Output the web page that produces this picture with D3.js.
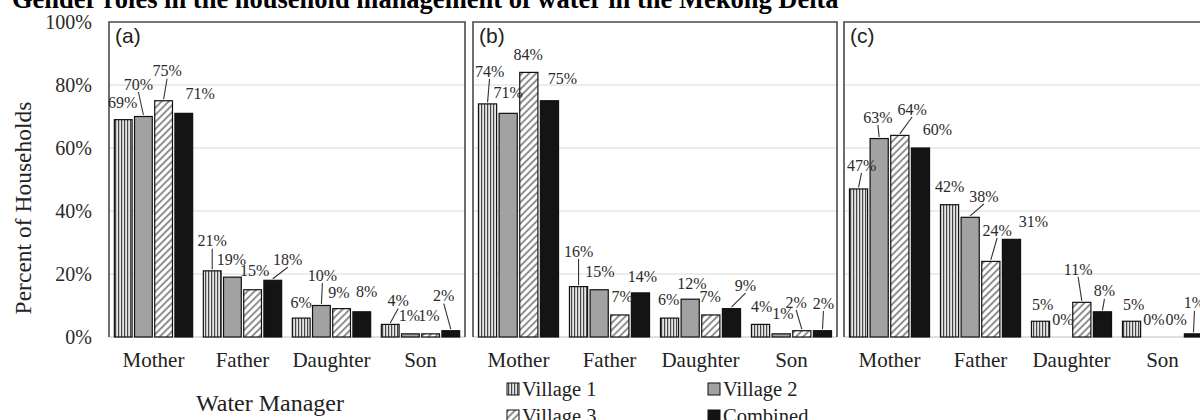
<!DOCTYPE html>
<html><head><meta charset="utf-8">
<script src="https://cdn.jsdelivr.net/npm/d3@7"></script>
<style>
html,body{margin:0;padding:0;background:#fff;}
svg{display:block;}
</style></head><body>
<svg id="chart" width="1200" height="420"></svg>
<script>
const categories = ["Mother", "Father", "Daughter", "Son"];
const seriesNames = ["Village 1", "Village 2", "Village 3", "Combined"];
const panelLabels = ["(a)", "(b)", "(c)"];
const yTickValues = [0, 20, 40, 60, 80, 100];

// Percent of households, one row per panel (a, b, c), columns in category order
const village1 = [[69, 21, 6, 4], [74, 16, 6, 4], [47, 42, 5, 5]];
const village2 = [[70, 19, 10, 1], [71, 15, 12, 1], [63, 38, 0, 0]];
const village3 = [[75, 15, 9, 1], [84, 7, 7, 2], [64, 24, 11, 0]];
const combined = [[71, 18, 8, 2], [75, 14, 9, 2], [60, 31, 8, 1]];
const seriesValues = [village1, village2, village3, combined];

// Data label placement relative to the bar's top centre: [dx, dy, leader line]
const labelOffsets = [
  [
    [[-0.5, -17.5, 0], [-5, -32.5, 1], [3.5, -30, 1], [16.5, -20, 0]],
    [[0, -30, 1], [-1, -18, 0], [2, -19, 0], [15, -21, 1]],
    [[0, -16, 0], [1, -30.5, 1], [-2.6, -16.6, 0], [5, -20, 0]],
    [[8, -24, 1], [-1, -18, 0], [-1.6, -18, 0], [-7, -35, 1]]
  ],
  [
    [[2, -33, 1], [0, -21, 0], [-0.7, -18.4, 0], [13, -22, 0]],
    [[0, -35.6, 1], [0.7, -18.7, 0], [2.3, -19, 0], [2, -17, 0]],
    [[-1, -19, 0], [1.7, -16, 0], [-0.7, -19, 0], [14, -23.6, 1]],
    [[1, -18, 0], [1.7, -20, 0], [-5.7, -28.7, 1], [1, -27.7, 1]]
  ],
  [
    [[3, -24, 1], [-1.3, -21.5, 1], [12.3, -26.4, 1], [17, -19, 0]],
    [[0, -18.7, 0], [13.7, -21.3, 1], [6.3, -31.4, 1], [22, -18, 0]],
    [[2, -17, 0], [1.7, -18, 0], [-3.7, -33.4, 1], [2, -21, 1]],
    [[2, -17, 0], [1.7, -18, 0], [3.3, -18, 0], [1, -31, 1]]
  ]
];

const panelExtents = [[109, 465], [473, 837], [844, 1208]];
const plotTop = 22, plotBottom = 337;

const svg = d3.select("#chart");
const serif = "'Liberation Serif','Times New Roman',serif";
const sans = "'Liberation Sans',Arial,sans-serif";

// Fill patterns for the four series
const defs = svg.append("defs");
const pv = defs.append("pattern").attr("id", "fill-v1")
  .attr("patternUnits", "userSpaceOnUse").attr("width", 3).attr("height", 6);
pv.append("rect").attr("width", 3).attr("height", 6).attr("fill", "#e6e6e6");
pv.append("rect").attr("x", 1).attr("width", 1.2).attr("height", 6).attr("fill", "#474747");

const ph = defs.append("pattern").attr("id", "fill-v3")
  .attr("patternUnits", "userSpaceOnUse").attr("width", 5).attr("height", 5)
  .attr("patternTransform", "rotate(45)");
ph.append("rect").attr("width", 5).attr("height", 5).attr("fill", "#fff");
ph.append("line").attr("x1", 1).attr("y1", 0).attr("x2", 1).attr("y2", 5)
  .attr("stroke", "#555").attr("stroke-width", 1.3);

const fills = ["url(#fill-v1)", "#a2a2a2", "url(#fill-v3)", "#141414"];

const y = d3.scaleLinear().domain([0, 100]).range([plotBottom, plotTop]);

// Title
svg.append("text").attr("x", 12).attr("y", 8)
  .attr("font-family", serif).attr("font-weight", "bold").attr("font-size", 26.5)
  .attr("fill", "#000")
  .text("Gender roles in the household management of water in the Mekong Delta");

// Y axis ticks
const yAxis = svg.append("g").attr("transform", `translate(${panelExtents[0][0]},0)`)
  .call(d3.axisLeft(y).tickValues(yTickValues).tickFormat(d => d + "%").tickSize(0).tickPadding(17));
yAxis.select(".domain").remove();
yAxis.selectAll("text").attr("font-family", serif).attr("font-size", 20).attr("fill", "#2a2a2a");

svg.append("text")
  .attr("transform", "translate(31,208) rotate(-90)")
  .attr("text-anchor", "middle").attr("font-family", serif).attr("font-size", 23.5)
  .attr("fill", "#222").text("Percent of Households");

panelExtents.forEach((ext, p) => {
  const g = svg.append("g");
  const x0 = d3.scaleBand().domain(categories).range(ext);
  const bw = x0.bandwidth();
  const x1 = d3.scaleBand().domain(seriesNames).range([bw * 0.06, bw * 0.94]).paddingInner(0.12);

  // gridlines
  g.selectAll("line.grid").data(yTickValues.filter(v => v < 100)).join("line")
    .attr("x1", ext[0]).attr("x2", ext[1])
    .attr("y1", d => y(d)).attr("y2", d => y(d))
    .attr("stroke", d => d === 0 ? "#d6d6d6" : "#e6e6e6").attr("stroke-width", 1.5);

  // frame: top, left and right edges
  g.append("path")
    .attr("d", `M${ext[0]},${y(0)}V${y(100)}H${ext[1]}V${y(0)}`)
    .attr("fill", "none").attr("stroke", "#4a4a4a").attr("stroke-width", 1.6);

  // panel letter
  g.append("text").attr("x", ext[0] + 6).attr("y", 43)
    .attr("font-family", sans).attr("font-size", 21).attr("fill", "#222")
    .text(panelLabels[p]);

  // bars
  const rows = [];
  categories.forEach((c, ci) => {
    seriesNames.forEach((s, si) => {
      rows.push({ c, ci, s, si, v: seriesValues[si][p][ci], off: labelOffsets[p][ci][si] });
    });
  });

  g.selectAll("rect.bar").data(rows).join("rect")
    .attr("x", d => x0(d.c) + x1(d.s))
    .attr("y", d => y(d.v))
    .attr("width", x1.bandwidth())
    .attr("height", d => y(0) - y(d.v))
    .attr("fill", d => fills[d.si])
    .attr("stroke", "#111").attr("stroke-width", 1.2);

  // leader lines
  g.selectAll("line.leader").data(rows.filter(d => d.off[2])).join("line")
    .attr("x1", d => x0(d.c) + x1(d.s) + x1.bandwidth() / 2 + d.off[0])
    .attr("y1", d => y(d.v) + d.off[1] + 8)
    .attr("x2", d => x0(d.c) + x1(d.s) + x1.bandwidth() / 2)
    .attr("y2", d => y(d.v) - 1.5)
    .attr("stroke", "#333").attr("stroke-width", 1.1);

  // value labels
  g.selectAll("text.val").data(rows).join("text")
    .attr("x", d => x0(d.c) + x1(d.s) + x1.bandwidth() / 2 + d.off[0])
    .attr("y", d => y(d.v) + d.off[1])
    .attr("dy", "0.35em").attr("text-anchor", "middle")
    .attr("font-family", serif).attr("font-size", 16).attr("fill", "#2a2a2a")
    .text(d => d.v + "%");

  // category axis
  const xAxis = g.append("g").attr("transform", `translate(0,${y(0)})`)
    .call(d3.axisBottom(x0).tickSize(0).tickPadding(15));
  xAxis.select(".domain").remove();
  xAxis.selectAll("text").attr("font-family", serif).attr("font-size", 21).attr("fill", "#222");
});

// X axis title
svg.append("text").attr("x", 270).attr("y", 411).attr("text-anchor", "middle")
  .attr("font-family", serif).attr("font-size", 24).attr("fill", "#222")
  .text("Water Manager");

// Legend
const legendCols = [507, 708], legendRows = [383, 410];
const lg = svg.append("g").selectAll("g").data(seriesNames).join("g")
  .attr("transform", (d, i) => `translate(${legendCols[i % 2]},${legendRows[Math.floor(i / 2)]})`);
lg.append("rect").attr("width", 12).attr("height", 12)
  .attr("fill", (d, i) => fills[i]).attr("stroke", "#111").attr("stroke-width", 1);
lg.append("text").attr("x", 15).attr("y", 12.5)
  .attr("font-family", serif).attr("font-size", 20.5).attr("fill", "#222")
  .text(d => d);
</script>
</body></html>
